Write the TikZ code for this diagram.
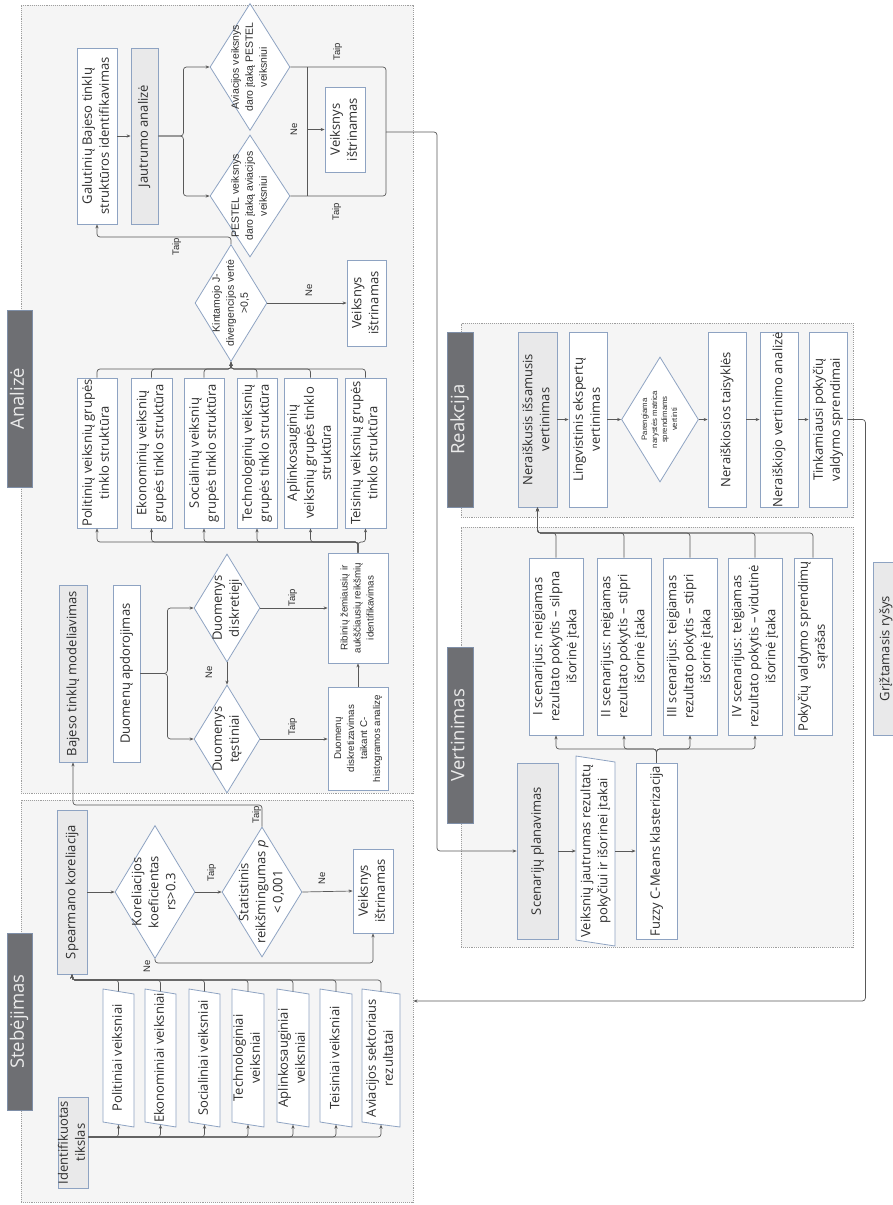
\documentclass[tikz,border=0pt]{standalone}
\usepackage{fontspec}
\setmainfont{Open Sans}
\newfontfamily\arialsf{Liberation Sans}
\usepackage{graphicx}
\usetikzlibrary{shapes.geometric,arrows.meta}

% font sizes
\newcommand{\mainfs}{\fontsize{13}{17}\selectfont}
\newcommand{\stagefs}{\fontsize{18.5}{22}\selectfont}
\newcommand{\dfs}{\arialsf\fontsize{10.5}{14}\selectfont}
\newcommand{\smallfs}{\arialsf\fontsize{9.8}{13}\selectfont}
\newcommand{\tinyfs}{\arialsf\fontsize{7.8}{10}\selectfont}
\newcommand{\tagfs}{\arialsf\fontsize{9.5}{10}\selectfont}

% upright-reading text, rotated by 90 degrees, taking no room of its own
\newcommand{\vt}[1]{\makebox[0pt][c]{\raisebox{-.5\height}[0pt][0pt]{\rotatebox{90}{\begin{tabular}{@{}c@{}}#1\end{tabular}}}}}

% box given by its corners: name, style, x1, y1, x2, y2, text
\newcommand{\bx}[7]{\node[#2, minimum width={#5-#3}, minimum height={#6-#4}] (#1) at ({(#3+#5)/2},{(#4+#6)/2}) {#7};}

% data box (parallelogram): name, x1, x2, y centre, height, slant, text
\newcommand{\iobox}[7]{%
  \filldraw[iobord] (#2,{#4-#5/2-#6}) -- (#3,{#4-#5/2+#6}) -- (#3,{#4+#5/2+#6}) -- (#2,{#4+#5/2-#6}) -- cycle;
  \node[bare, minimum width={#3-#2}, minimum height=#5] (#1) at ({(#2+#3)/2},#4) {\vt{#7}};}

\definecolor{contfill}{HTML}{F5F5F5}
\definecolor{contline}{HTML}{9E9E9E}
\definecolor{boxline}{HTML}{8EA3C2}
\definecolor{headfill}{HTML}{E9E9EA}
\definecolor{stagefill}{HTML}{6E6F73}
\definecolor{stageline}{HTML}{7F8FA8}
\definecolor{wirecol}{HTML}{595959}
\definecolor{ink}{HTML}{2E2E2E}

\tikzset{
  cont/.style={draw=contline, fill=contfill, densely dotted, line width=0.9pt, inner sep=0},
  plainbox/.style={draw=boxline, fill=white, line width=0.8pt, inner sep=0, font=\mainfs, text=ink},
  headbox/.style={plainbox, fill=headfill},
  stage/.style={draw=stageline, fill=stagefill, line width=0.8pt, inner sep=0, text=white!92!black, font=\stagefs},
  decision/.style={diamond, draw=boxline, fill=white, line width=0.8pt, inner sep=0, font=\mainfs, text=ink},
  wire/.style={draw=wirecol, line width=0.7pt, rounded corners=3pt},
  flow/.style={wire, -{Stealth[length=4pt,width=3.2pt]}},
  tag/.style={inner sep=0, font=\tagfs, text=ink},
  iobord/.style={draw=boxline, fill=white, line width=0.8pt},
  bare/.style={inner sep=0, font=\mainfs, text=ink},
}

\begin{document}
\begin{tikzpicture}[x=1pt, y=-1pt]
\fill[white] (0,0) rectangle (892,1205);
\useasboundingbox (0,0) rectangle (892,1205);

% ---------- stage containers ----------
\bx{obs}{cont}{21}{800}{413}{1202}{}
\bx{ana}{cont}{21}{5}{413}{793}{}
\bx{rea}{cont}{461}{323}{853}{517}{}
\bx{eva}{cont}{461}{527}{853}{947}{}

\bx{labana}{stage}{7}{310}{32}{487}{\vt{Analizė}}
\bx{labobs}{stage}{7}{933}{32}{1110}{\vt{Stebėjimas}}
\bx{labrea}{stage}{447}{332}{473}{507}{\vt{Reakcija}}
\bx{labeva}{stage}{447}{647}{473}{823}{\vt{Vertinimas}}

% ---------- Stebejimas ----------
\bx{ident}{headbox}{58}{1097}{88}{1188}{\vt{Identifikuotas\\tikslas}}
\iobox{io1}{103}{134}{1058}{133}{2.5}{Politiniai veiksniai}
\iobox{io2}{145}{176}{1058}{133}{2.5}{Ekonominiai veiksniai}
\iobox{io3}{189}{220}{1058}{133}{2.5}{Socialiniai veiksniai}
\iobox{io4}{232}{264}{1058}{133}{2.5}{Technologiniai\\veiksniai}
\iobox{io5}{277}{309}{1058}{133}{2.5}{Aplinkosauginiai\\veiksniai}
\iobox{io6}{320}{352}{1058}{133}{2.5}{Teisiniai veiksniai}
\iobox{io7}{362}{400}{1058}{133}{2.5}{Aviacijos sektoriaus\\rezultatai}
\bx{spear}{headbox}{57}{810}{87}{974}{\vt{Spearmano koreliacija}}
\node[decision, minimum width=80, minimum height=133] (d1) at (155,892) {\vt{Koreliacijos\\koeficientas\\rs>0.3}};
\node[decision, minimum width=80, minimum height=130] (d2) at (262,892) {\vt{Statistinis\\reikšmingumas \textit{p}\\< 0,001}};
\bx{delobs}{plainbox}{353}{849}{393}{933}{\vt{Veiksnys\\ištrinamas}}
\node[tag] (t1) at (212,873) {\vt{Taip}};
\node[tag] (t2) at (257,815) {\vt{Taip}};
\node[tag] (t3) at (148,966) {\vt{Ne}};
\node[tag] (t4) at (323,878) {\vt{Ne}};

% ---------- Analize ----------
\bx{bajes}{headbox}{59}{585}{87}{762}{\vt{Bajeso tinklų modeliavimas}}
\bx{apdor}{plainbox}{113}{585}{140}{762}{\vt{Duomenų apdorojimas}}
\node[decision, minimum width=66, minimum height=108] (ddisk) at (227,608) {\vt{Duomenys\\diskretieji}};
\node[decision, minimum width=66, minimum height=108] (dtest) at (227,739) {\vt{Duomenys\\tęstiniai}};
\bx{ribin}{plainbox, font=\smallfs}{328}{553}{388}{663}{\vt{Ribinių žemiausių ir\\aukščiausių reikšmių\\identifikavimas}}
\bx{diskr}{plainbox, font=\smallfs}{328}{687}{388}{790}{\vt{Duomenų\\diskretizavimas\\taikant C-\\histogramos analizę}}
\node[tag] (t5) at (210,672) {\vt{Ne}};
\node[tag] (t6) at (293,598) {\vt{Taip}};
\node[tag] (t7) at (293,727) {\vt{Taip}};

\bx{g1}{plainbox}{77}{378}{117}{528}{\vt{Politinių veiksnių grupės\\tinklo struktūra}}
\bx{g2}{plainbox}{131}{378}{172}{528}{\vt{Ekonominių veiksnių\\grupės tinklo struktūra}}
\bx{g3}{plainbox}{184}{378}{224}{528}{\vt{Socialinių veiksnių\\grupės tinklo struktūra}}
\bx{g4}{plainbox}{237}{378}{277}{528}{\vt{Technologinių veiksnių\\grupės tinklo struktūra}}
\bx{g5}{plainbox}{284}{378}{337}{528}{\vt{Aplinkosauginių\\veiksnių grupės tinklo\\struktūra}}
\bx{g6}{plainbox}{345}{378}{386}{528}{\vt{Teisinių veiksnių grupės\\tinklo struktūra}}

\node[decision, font=\dfs, minimum width=72, minimum height=117] (dkint) at (231,303) {\vt{Kintamojo J-\\divergencijos vertė\\>0,5}};
\bx{delana}{plainbox}{347}{260}{386}{346}{\vt{Veiksnys\\ištrinamas}}
\node[tag] (t8) at (310,290) {\vt{Ne}};
\node[tag] (t9) at (177,247) {\vt{Taip}};

\bx{galut}{plainbox}{77}{48}{117}{224}{\vt{Galutinių Bajeso tinklų\\struktūros identifikavimas}}
\bx{jautr}{headbox}{131}{48}{158}{224}{\vt{Jautrumo analizė}}
\node[decision, font=\dfs, minimum width=80, minimum height=127] (davi) at (250,67) {\vt{Aviacijos veiksnys\\daro įtaką PESTEL\\veiksniui}};
\node[decision, font=\dfs, minimum width=80, minimum height=122] (dpes) at (250,196) {\vt{PESTEL veiksnys\\daro įtaką aviacijos\\veiksniui}};
\bx{delup}{plainbox}{325}{87}{365}{172}{\vt{Veiksnys\\ištrinamas}}
\coordinate (merge) at (386,132);
\coordinate (nosplit) at (307,129.5);
\node[tag] (t10) at (338,52) {\vt{Taip}};
\node[tag] (t11) at (337,212) {\vt{Taip}};
\node[tag] (t12) at (295,129) {\vt{Ne}};

% ---------- Vertinimas ----------
\bx{scen}{headbox}{517}{763}{558}{939}{\vt{Scenarijų planavimas}}
\iobox{sens}{576}{615}{851}{184}{3}{Veiksnių jautrumas rezultatų\\pokyčiui ir išorinei įtakai}
\bx{fuzzy}{plainbox}{636}{763}{677}{939}{\vt{Fuzzy C-Means klasterizacija}}
\bx{s1}{plainbox}{529}{558}{583}{735}{\vt{I scenarijus: neigiamas\\rezultato pokytis – silpna\\išorinė įtaka}}
\bx{s2}{plainbox}{597}{558}{651}{735}{\vt{II scenarijus: neigiamas\\rezultato pokytis – stipri\\išorinė įtaka}}
\bx{s3}{plainbox}{663}{558}{717}{735}{\vt{III scenarijus: teigiamas\\rezultato pokytis – stipri\\išorinė įtaka}}
\bx{s4}{plainbox}{728}{558}{782}{735}{\vt{IV scenarijus: teigiamas\\rezultato pokytis – vidutinė\\išorinė įtaka}}
\bx{s5}{plainbox}{794}{558}{832}{735}{\vt{Pokyčių valdymo sprendimų\\sąrašas}}

% ---------- Reakcija ----------
\bx{nerai}{headbox}{518}{332}{557}{507}{\vt{Neraiškusis išsamusis\\vertinimas}}
\bx{lingv}{plainbox}{569}{332}{607}{507}{\vt{Lingvistinis ekspertų\\vertinimas}}
\node[decision, font=\tinyfs, minimum width=77, minimum height=125] (dmat) at (660,419.5) {\vt{Parengiama\\narystės matrica\\sprendimams\\vertinti}};
\bx{taisy}{plainbox}{708}{332}{746}{507}{\vt{Neraiškiosios taisyklės}}
\bx{anal}{plainbox}{760}{332}{798}{507}{\vt{Neraiškiojo vertinimo analizė}}
\bx{tink}{plainbox}{809}{332}{847}{507}{\vt{Tinkamiausi pokyčių\\valdymo sprendimai}}

\bx{grizt}{headbox}{873}{562}{899}{735}{\vt{Grįžtamasis ryšys}}

% ---------- connectors ----------
\foreach \k in {1,...,7} {
  \draw[flow] (ident.east |- 0,1137) -| (io\k.south);
  \draw[flow] (io\k.north) -- (io\k.north |- 0,980) -| (spear.south);
}
\draw[flow] (spear.east) -- (d1.west);
\draw[flow] (d1.east) -- (d2.west);
\draw[flow] (d2.north) -- (d2.north |- 0,805) -| (bajes.south);
\draw[flow] (d2.east) -- (delobs.west);
\draw[flow] (d1.south) -- (d1.south |- 0,963) -| (delobs.south);

\draw[flow] (apdor.east) -- ++(27,0) |- (ddisk.west);
\draw[flow] (apdor.east) -- ++(27,0) |- (dtest.west);
\draw[flow] (ddisk.south) -- (dtest.north);
\draw[flow] (ddisk.east) -- (ribin.west);
\draw[flow] (dtest.east) -- (dtest.east -| diskr.west);
\draw[flow] (diskr.north) -- (ribin.south);
\foreach \k in {1,...,6} {
  \draw[flow] (ribin.north) -- (ribin.north |- 0,542) -| (g\k.south);
  \draw[flow] (g\k.north) -- (g\k.north |- 0,369) -| (dkint.south);
}
\draw[flow] (dkint.east) -- (delana.west);
\draw[flow] (dkint.north) -- (dkint.north |- 0,237) -| (galut.south);
\draw[flow] (galut.east) -- (jautr.west);
\draw[flow] (jautr.east) -- ++(25,0) |- (davi.west);
\draw[flow] (jautr.east) -- ++(25,0) |- (dpes.west);
\draw[wire] (davi.east) -| (merge);
\draw[wire] (dpes.east) -| (merge);
\draw[wire] (davi.east -| nosplit) -- (dpes.east -| nosplit);
\draw[flow] (nosplit) -- (delup.west);
\draw[flow] (merge) -- ++(51,0) |- (scen.west);

\draw[flow] (scen.east) -- (sens.west);
\draw[flow] (sens.east) -- (fuzzy.west);
\foreach \k in {1,...,4} {
  \draw[flow] (fuzzy.north) -- (fuzzy.north |- 0,749) -| (s\k.south);
}
\foreach \k in {1,...,5} {
  \draw[flow] (s\k.north) -- (s\k.north |- 0,533) -| (nerai.south);
}

\draw[flow] (nerai.east) -- (lingv.west);
\draw[flow] (lingv.east) -- (dmat.west);
\draw[flow] (dmat.east) -- (taisy.west);
\draw[flow] (taisy.east) -- (anal.west);
\draw[flow] (anal.east) -- (tink.west);
\draw[flow] (tink.east) -- ++(18,0) |- (obs.east);
\end{tikzpicture}
\end{document}
